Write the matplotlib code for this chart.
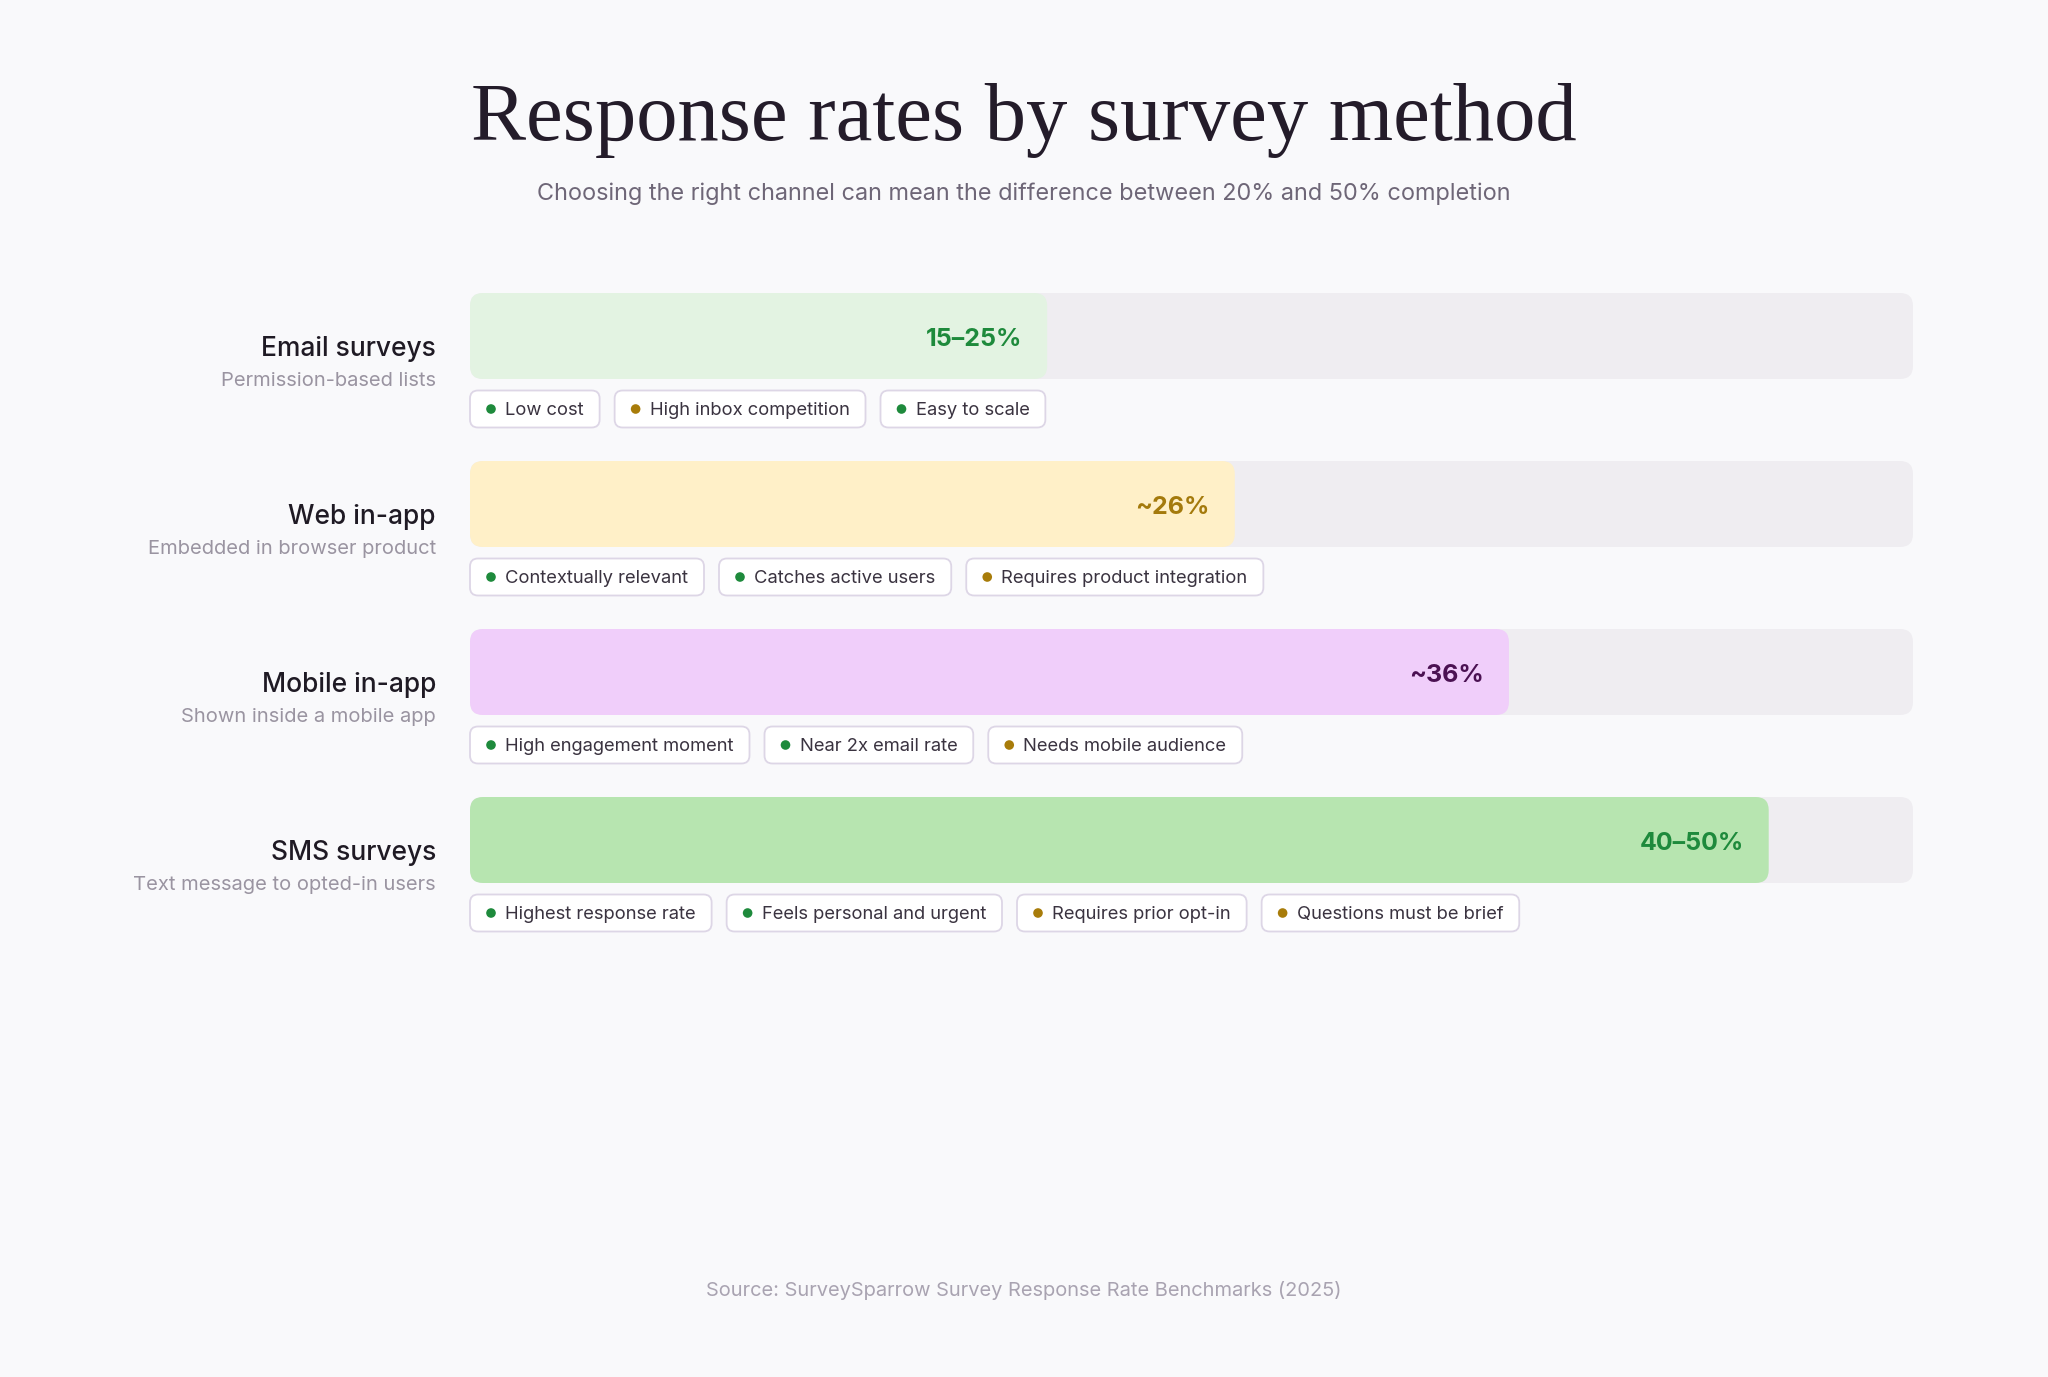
import matplotlib
matplotlib.use("Agg")
import matplotlib.pyplot as plt
from matplotlib.patches import FancyBboxPatch, Circle

# data
methods = ["Email surveys", "Web in-app", "Mobile in-app", "SMS surveys"]
subtitles = ["Permission-based lists", "Embedded in browser product",
             "Shown inside a mobile app", "Text message to opted-in users"]
rates = [20, 26.5, 36, 45]           # bar length
rate_labels = ["15\u201325%", "~26%", "~36%", "40\u201350%"]
scale_max = 50
tags = [
    [("Low cost", "pro"), ("High inbox competition", "con"), ("Easy to scale", "pro")],
    [("Contextually relevant", "pro"), ("Catches active users", "pro"),
     ("Requires product integration", "con")],
    [("High engagement moment", "pro"), ("Near 2x email rate", "pro"),
     ("Needs mobile audience", "con")],
    [("Highest response rate", "pro"), ("Feels personal and urgent", "pro"),
     ("Requires prior opt-in", "con"), ("Questions must be brief", "con")],
]

# styles
BG = "#f9f9fb"
TRACK = "#efedf1"
bar_colors = ["#e3f3e2", "#fff0c8", "#f0cefa", "#b7e5b0"]
label_colors = ["#1e8a3c", "#a47a0c", "#4b1152", "#1e8a3c"]
dot_colors = {"pro": "#1e8a3c", "con": "#a87c0a"}
FONT = ["Inter", "DejaVu Sans"]

W, H = 2048, 1377
fig = plt.figure(figsize=(W / 100, H / 100), dpi=100, facecolor=BG)

# overlay axes in pixel units
ov = fig.add_axes([0, 0, 1, 1])
ov.set_xlim(0, W)
ov.set_ylim(H, 0)
ov.axis("off")
ov.set_zorder(2)
ov.patch.set_alpha(0)

# bar axes: x in percent, y in rows
track_left, track_w = 470, 1443
row_h = 168
first_center = 336
top = first_center - row_h / 2
nrows = len(methods)
bx = fig.add_axes([track_left / W, 1 - (top + nrows * row_h) / H,
                   track_w / W, nrows * row_h / H])
bx.set_xlim(0, scale_max)
bx.set_ylim(nrows - 0.5, -0.5)
bx.axis("off")
bx.patch.set_alpha(0)

px_x = track_w / scale_max
bar_h = 86 / row_h
radius = 13 / px_x
aspect = (13 / row_h) / radius

for i, (v, lab) in enumerate(zip(rates, rate_labels)):
    y0 = i - bar_h / 2
    bx.add_patch(FancyBboxPatch((0, y0), scale_max, bar_h,
                                boxstyle=f"round,pad=0,rounding_size={radius}",
                                mutation_aspect=aspect, fc=TRACK, ec="none"))
    bx.add_patch(FancyBboxPatch((0, y0), v, bar_h,
                                boxstyle=f"round,pad=0,rounding_size={radius}",
                                mutation_aspect=aspect, fc=bar_colors[i], ec="none"))
    bx.annotate(lab, (v, i), xytext=(-18, -2.5), textcoords="offset points",
                ha="right", va="center", fontsize=18, fontweight="bold",
                color=label_colors[i], family=FONT)

# title & subtitle
ov.text(W / 2, 120, "Response rates by survey method", ha="center", va="center",
        fontsize=59.5, color="#241c2a", family=["Liberation Serif", "DejaVu Serif"])
ov.text(W / 2, 194, "Choosing the right channel can mean the difference between 20% and 50% completion",
        ha="center", va="center", fontsize=16.9, color="#6e6677", family=FONT)

fig.canvas.draw()
renderer = fig.canvas.get_renderer()

tag_h = 37
for i in range(nrows):
    cy = first_center + i * row_h
    ov.text(436, cy + 13, methods[i], ha="right", va="center", fontsize=19,
            fontweight="medium", color="#1f1a24", family=FONT)
    ov.text(436, cy + 45, subtitles[i], ha="right", va="center", fontsize=14.5,
            color="#9a94a1", family=FONT)
    tx = track_left
    ty = cy + 73
    for name, kind in tags[i]:
        t = ov.text(tx + 35, ty + 1.5, name, ha="left", va="center", fontsize=13.25,
                    color="#3a3340", family=FONT, zorder=4)
        tw = t.get_window_extent(renderer).width
        w = 35 + tw + 16
        ov.add_patch(FancyBboxPatch((tx, ty - tag_h / 2), w, tag_h,
                                    boxstyle="round,pad=0,rounding_size=8",
                                    fc="white", ec="#ddd6e6", lw=1.3, zorder=3))
        ov.add_patch(Circle((tx + 21, ty), 4.8, fc=dot_colors[kind], ec="none", zorder=4))
        tx += w + 15

ov.text(W / 2, 1291, "Source: SurveySparrow Survey Response Rate Benchmarks (2025)",
        ha="center", va="center", fontsize=14.45, color="#a9a3b1", family=FONT)

fig.savefig("out.png", dpi=100, facecolor=BG)
